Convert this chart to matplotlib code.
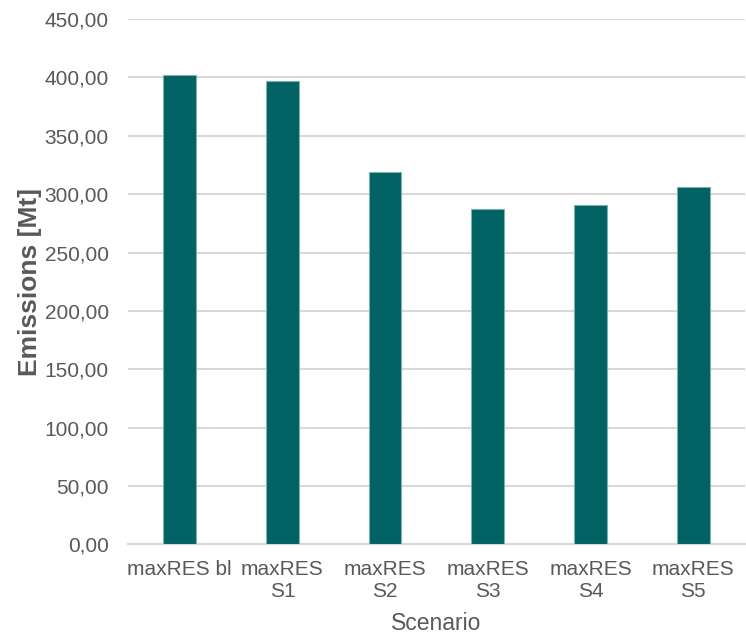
import matplotlib
matplotlib.use("Agg")
import matplotlib.pyplot as plt
from matplotlib.ticker import FuncFormatter, MultipleLocator

plt.rcParams['font.family'] = ['Liberation Sans', 'DejaVu Sans']

scenarios = ["maxRES bl", "maxRES\nS1", "maxRES\nS2", "maxRES\nS3", "maxRES\nS4", "maxRES\nS5"]
emissions = [402.0, 397.0, 319.0, 287.5, 291.0, 306.0]

text_color = "#595959"
bar_color = "#006262"
grid_color = "#d9d9d9"

fig = plt.figure(figsize=(7.46, 6.36), dpi=100)
ax = fig.add_axes([0.172, 0.144, 0.826, 0.826])

x = range(len(scenarios))
ax.bar(x, emissions, width=0.32, color=bar_color, edgecolor="#7fb1b1", linewidth=0.8, zorder=3)

ax.set_ylim(0, 450)
ax.set_xlim(-0.5, len(scenarios) - 0.5)
ax.yaxis.set_major_locator(MultipleLocator(50))
ax.yaxis.set_major_formatter(FuncFormatter(lambda v, p: f"{v:.2f}".replace(".", ",")))
ax.grid(axis="y", color=grid_color, linewidth=1.5, zorder=0)

ax.set_xticks(list(x))
ax.set_xticklabels(scenarios, linespacing=1.2)
ax.tick_params(axis="both", length=0, labelsize=15, labelcolor=text_color)
ax.tick_params(axis="y", pad=14)
ax.tick_params(axis="x", pad=11)

for side in ("left", "right", "top"):
    ax.spines[side].set_visible(False)
ax.spines["bottom"].set_color(grid_color)
ax.spines["bottom"].set_linewidth(1.5)

ax.set_xlabel("Scenario", fontsize=16.5, color=text_color)
ax.xaxis.set_label_coords(0.5, -0.128)
ax.set_ylabel("Emissions [Mt]", fontsize=19, fontweight="bold", color=text_color)
ax.yaxis.set_label_coords(-0.14, 0.5)

fig.savefig("out.png", dpi=100)
